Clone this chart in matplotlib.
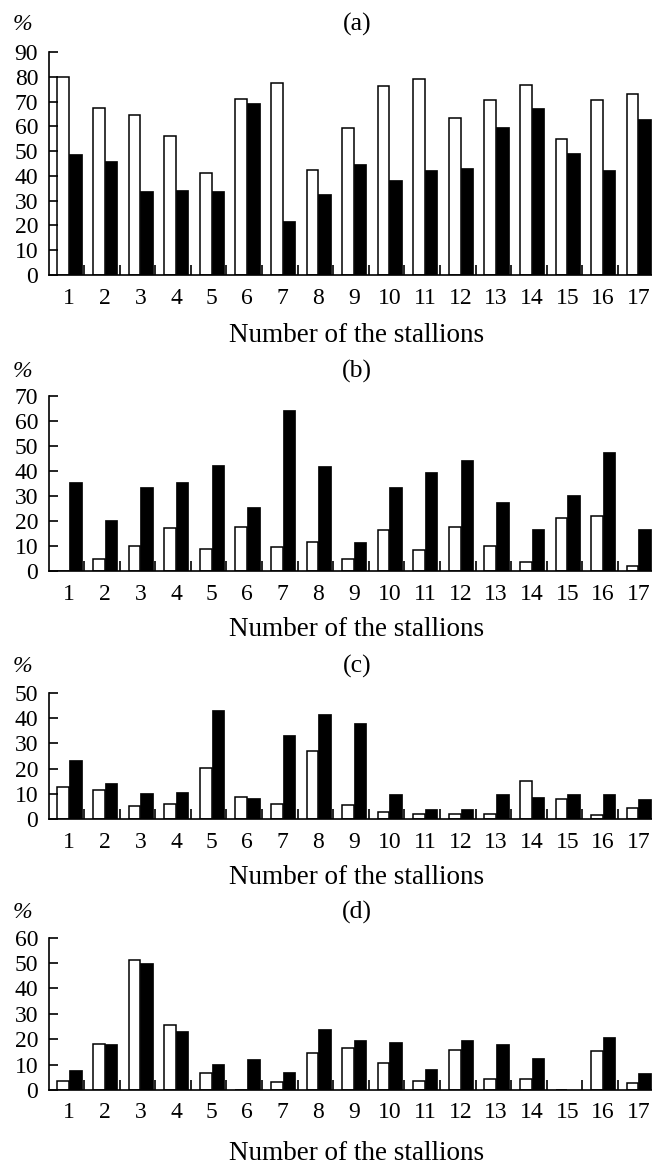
import matplotlib.pyplot as plt
import numpy as np

plt.rcParams['font.family'] = ['Liberation Serif', 'DejaVu Serif']

stallions = list(range(1, 18))

# panel (a)
a_white = [80.1, 67.6, 64.7, 56.3, 41.3, 71.2, 77.3, 42.5, 59.2, 76.4, 79.3, 63.3, 70.5, 76.7, 55.0, 70.5, 73.1]
a_black = [49.0, 46.0, 33.9, 34.3, 33.9, 69.3, 21.8, 32.7, 44.8, 38.4, 42.3, 43.2, 59.8, 67.4, 49.1, 42.4, 63.0]

# panel (b)
b_white = [0, 4.8, 10.1, 17.3, 8.7, 17.7, 9.7, 11.7, 4.7, 16.5, 8.5, 17.7, 10.1, 3.7, 21.3, 22.1, 2.1]
b_black = [35.4, 20.2, 33.4, 35.4, 42.3, 25.4, 64.3, 41.9, 11.5, 33.4, 39.4, 44.2, 27.6, 16.6, 30.2, 47.4, 16.6]

# panel (c)
c_white = [12.8, 11.6, 5.3, 5.8, 20.4, 8.9, 6.1, 27.1, 5.7, 2.9, 2.0, 2.0, 2.0, 15.1, 8.1, 1.5, 4.5]
c_black = [23.3, 14.2, 10.2, 10.6, 43.3, 8.2, 33.2, 41.5, 38.0, 9.8, 4.1, 3.8, 9.8, 8.6, 9.8, 9.8, 7.8]

# panel (d)
d_white = [3.4, 18.2, 51.3, 25.7, 6.8, 0, 3.3, 14.7, 16.7, 10.5, 3.7, 15.9, 4.5, 4.5, 0, 15.5, 2.6]
d_black = [7.7, 18.1, 50.0, 23.2, 10.2, 12.2, 7.0, 23.9, 19.6, 18.8, 8.1, 19.6, 18.0, 12.5, 0, 20.9, 6.7]

panels = [
    ('(a)', a_white, a_black, 90),
    ('(b)', b_white, b_black, 70),
    ('(c)', c_white, c_black, 50),
    ('(d)', d_white, d_black, 60),
]

W, H = 652, 1168
fig = plt.figure(figsize=(W / 100, H / 100), dpi=100)

# pixel positions: (zero line y, top line y, title y, xlabel y)
layout = [
    (275, 52, 24, 335),
    (571, 395.7, 371, 629),
    (819, 693, 666, 878),
    (1090, 937.7, 912, 1154),
]

left = 49.3
fs = 17
x = np.array(stallions)
w = 0.33

for (name, white, black, ymax), (y0, y1, ty, ly) in zip(panels, layout):
    ax = fig.add_axes([left / W, 1 - y0 / H, 1 - left / W, (y0 - y1) / H])
    ax.bar(x - w, white, width=w, align='edge', color='white', edgecolor='black', linewidth=1.1)
    ax.bar(x, black, width=w + 0.02, align='edge', color='black', edgecolor='black', linewidth=0.5)

    ax.set_xlim(0.44, 17.38)
    ax.set_ylim(0, ymax)
    ax.set_yticks(range(0, ymax + 1, 10))
    ax.set_xticks(x)
    ax.set_xticklabels([str(s) for s in stallions])
    ax.set_xticks(x[:-1] + 0.42, minor=True)

    ax.tick_params(axis='x', which='major', length=0, pad=9, labelsize=fs)
    ax.tick_params(axis='x', which='minor', direction='in', length=7, width=1.2)
    ax.tick_params(axis='y', direction='in', length=6.5, width=1.2, pad=8, labelsize=fs)

    for s in ['top', 'right']:
        ax.spines[s].set_visible(False)
    for s in ['left', 'bottom']:
        ax.spines[s].set_linewidth(1.2)

    fig.text(22 / W, 1 - ty / H, '%', fontsize=fs, ha='center', va='center', style='italic')
    fig.text(357 / W, 1 - ty / H, name, fontsize=18.5, ha='center', va='center')
    fig.text(356.5 / W, 1 - ly / H, 'Number of the stallions', fontsize=19.5, ha='center', va='center')

fig.savefig('out.png', dpi=100)
